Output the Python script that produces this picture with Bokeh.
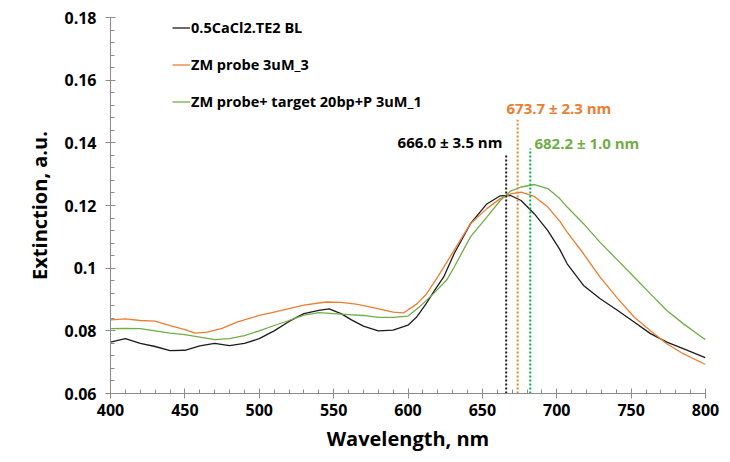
from bokeh.plotting import figure
from bokeh.models import Range1d, Legend, LegendItem, Label, ColumnDataSource, FixedTicker
from bokeh.embed import file_html
from bokeh.resources import INLINE

# ---- data ----
bl_nm = [400, 410, 420, 430, 440, 450, 460, 470, 480, 490, 500, 510, 520, 530, 540, 547, 555, 562,
         570, 580, 590, 595, 600, 606, 612, 618, 624, 631, 642, 653, 662, 669, 676, 685, 694, 702,
         707, 718, 729, 741, 752, 763, 774, 785, 799, 800]
bl_ext = [0.0764, 0.0775, 0.0760, 0.0750, 0.0737, 0.0738, 0.0752, 0.0760, 0.0753, 0.0760, 0.0775,
          0.0800, 0.0830, 0.0855, 0.0865, 0.0870, 0.0855, 0.0835, 0.0815, 0.0800, 0.0802, 0.0810,
          0.0818, 0.0845, 0.0885, 0.0930, 0.0972, 0.1046, 0.1142, 0.1205, 0.1231, 0.1232, 0.1216,
          0.1173, 0.1120, 0.1060, 0.1014, 0.0945, 0.0903, 0.0865, 0.0828, 0.0791, 0.0764, 0.0743,
          0.0716, 0.0714]

probe_nm = [400, 410, 420, 430, 440, 450, 457, 465, 475, 485, 500, 510, 520, 530, 545, 555, 565, 575,
            590, 597, 606, 612, 620, 631, 642, 653, 662, 669, 676, 685, 694, 702, 707, 718, 729, 741,
            752, 763, 774, 785, 799, 800]
probe_ext = [0.0835, 0.0838, 0.0833, 0.0831, 0.0817, 0.0804, 0.0793, 0.0796, 0.0808, 0.0828, 0.0849,
             0.0860, 0.0871, 0.0882, 0.0892, 0.0891, 0.0885, 0.0876, 0.0860, 0.0857, 0.0886, 0.0915,
             0.0972, 0.1057, 0.1142, 0.1190, 0.1222, 0.1237, 0.1243, 0.1229, 0.1195, 0.1150, 0.1115,
             0.1046, 0.0972, 0.0903, 0.0844, 0.0800, 0.0759, 0.0727, 0.0695, 0.0693]

target_nm = [400, 410, 420, 430, 440, 450, 460, 470, 480, 490, 500, 510, 520, 530, 540, 550, 560, 570,
             580, 590, 600, 608, 617, 626, 631, 642, 653, 662, 669, 676, 685, 694, 702, 707, 718, 729,
             741, 752, 763, 774, 785, 799, 800]
target_ext = [0.0807, 0.0808, 0.0807, 0.0800, 0.0793, 0.0788, 0.0780, 0.0772, 0.0775, 0.0785, 0.0800,
              0.0817, 0.0833, 0.0850, 0.0858, 0.0855, 0.0852, 0.0849, 0.0843, 0.0843, 0.0847, 0.0878,
              0.0918, 0.0962, 0.1003, 0.1100, 0.1163, 0.1216, 0.1246, 0.1259, 0.1267, 0.1254, 0.1222,
              0.1195, 0.1142, 0.1083, 0.1025, 0.0972, 0.0918, 0.0865, 0.0823, 0.0775, 0.0772]

series_names = ["0.5CaCl2.TE2 BL", "ZM probe 3uM_3", "ZM probe+ target 20bp+P 3uM_1"]
peak_nm = [666.0, 673.7, 682.2]
peak_err = [3.5, 2.3, 1.0]
peak_line_top = [0.1366, 0.1474, 0.1382]
x_ticks = [400, 450, 500, 550, 600, 650, 700, 750, 800]
y_ticks = [0.06, 0.08, 0.10, 0.12, 0.14, 0.16, 0.18]
y_tick_labels = ["0.06", "0.08", "0.1", "0.12", "0.14", "0.16", "0.18"]

FONT = "Open Sans"
BLACK = "#1c1c1c"
ORANGE = "#ED7D31"
GREEN = "#70AD47"
GREEN_DOT = "#00B050"

p = figure(width=722, height=454, output_backend="svg", toolbar_location=None,
           x_range=Range1d(400, 800), y_range=Range1d(0.06, 0.18),
           min_border_left=110, min_border_right=17, min_border_top=17, min_border_bottom=61)
p.outline_line_color = None
p.xgrid.visible = False
p.ygrid.visible = False
p.background_fill_color = "white"

r1 = p.line(bl_nm, bl_ext, line_color=BLACK, line_width=1.3)
r2 = p.line(probe_nm, probe_ext, line_color=ORANGE, line_width=1.3)
r3 = p.line(target_nm, target_ext, line_color=GREEN, line_width=1.3)

cols = [BLACK, ORANGE, GREEN_DOT]
txt_cols = ["#000000", ORANGE, GREEN]
src = ColumnDataSource(dict(x0=peak_nm, x1=peak_nm, y0=[0.06] * 3, y1=peak_line_top, c=cols))
p.segment(x0="x0", y0="y0", x1="x1", y1="y1", line_color="c", line_width=2, line_dash="2 2", source=src)

# labels for peaks
lab_pos = [(663.5, 0.1404, "right"), (666.2, 0.1510, "left"), (685.0, 0.1401, "left")]
for (lx, ly, al), pk, er, tc in zip(lab_pos, peak_nm, peak_err, txt_cols):
    p.add_layout(Label(x=lx, y=ly, text=f"{pk:.1f} \u00b1 {er:.1f} nm", text_align=al,
                       text_baseline="middle", text_font=FONT, text_font_style="bold",
                       text_font_size="15px", text_color=tc))

for ax in (p.xaxis[0], p.yaxis[0]):
    ax.axis_line_color = "#8c8c8c"
    ax.major_tick_line_color = "#8c8c8c"
    ax.minor_tick_line_color = "#8c8c8c"
    ax.major_tick_in = 5
    ax.major_tick_out = 5
    ax.minor_tick_in = 4
    ax.minor_tick_out = 0
    ax.major_label_text_font = FONT
    ax.major_label_text_font_style = "bold"
    ax.major_label_text_font_size = "16px"
    ax.major_label_text_color = "#000000"
    ax.axis_label_text_font = FONT
    ax.axis_label_text_font_style = "bold"
    ax.axis_label_text_font_size = "20px"
    ax.axis_label_text_color = "#000000"

p.xaxis[0].ticker = FixedTicker(ticks=x_ticks, minor_ticks=[x for x in range(400, 801, 10) if x % 50])
p.yaxis[0].ticker = FixedTicker(ticks=y_ticks,
                                minor_ticks=[round(0.06 + 0.004 * i, 3) for i in range(31) if i % 5])
p.yaxis[0].major_label_overrides = {v: t for v, t in zip(y_ticks, y_tick_labels)}
p.xaxis.axis_label = "Wavelength, nm"
p.yaxis.axis_label = "Extinction, a.u."
p.xaxis.major_label_standoff = 5
p.yaxis.major_label_standoff = 9
p.xaxis.axis_label_standoff = 6
p.yaxis.axis_label_standoff = 8

legend = Legend(items=[LegendItem(label=n, renderers=[r]) for n, r in zip(series_names, [r1, r2, r3])],
                location=(62, 281), orientation="vertical", padding=0, margin=0, spacing=16,
                glyph_width=18, glyph_height=21, label_height=21, label_standoff=1,
                label_text_font=FONT, label_text_font_style="bold", label_text_font_size="14.5px",
                label_text_color="#000000", border_line_color=None, background_fill_alpha=0)
p.add_layout(legend)

open("out.html", "w").write(file_html(p, INLINE))
